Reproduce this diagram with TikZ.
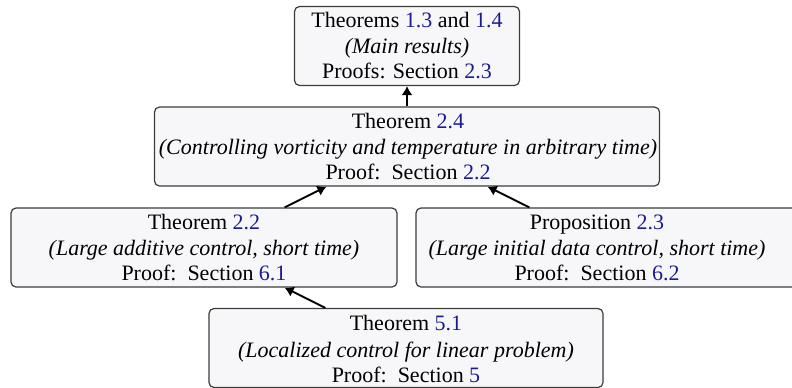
\documentclass[tikz,border=0pt]{standalone}
\usepackage{fontspec}
\setmainfont{Liberation Serif}
\usetikzlibrary{arrows.meta}
\definecolor{lnk}{RGB}{28,28,145}
\definecolor{boxfill}{RGB}{247,247,250}
\definecolor{boxline}{RGB}{60,60,60}
\newcommand{\rf}[1]{\textcolor{lnk}{#1}}
\tikzset{
  box/.style={draw=boxline, fill=boxfill, line width=0.6pt, rounded corners=2.5pt, inner sep=0pt, minimum height=39.5pt},
  txt/.style={anchor=base, inner sep=0pt, font=\fontsize{11}{13}\selectfont},
  arr/.style={-{Latex[length=4.5pt,width=5.5pt]}, line width=0.95pt, black}
}
\begin{document}
\begin{tikzpicture}[x=0.5pt,y=-0.5pt]
\useasboundingbox (0,0) rectangle (792,387);
\clip (0,0) rectangle (792,387);
% boxes
\node[box, minimum width=112.5pt] (top) at (407,46) {};
\node[box, minimum width=252.5pt] (t24) at (407,146.5) {};
\node[box, minimum width=193pt] (t22) at (204,247.5) {};
\node[box, minimum width=194pt] (p23) at (610,247.5) {};
\node[box, minimum width=197pt] (t51) at (406,348) {};
% texts: top
\node[txt] (topa) at (407,27) {Theorems \rf{1.3} and \rf{1.4}};
\node[txt] (topb) at (407,53) {\textit{(Main results)}};
\node[txt] (topc) at (407,78) {Proofs: Section \rf{2.3}};
% 2.4
\node[txt] (t24a) at (408,128) {Theorem \rf{2.4}};
\node[txt] (t24b) at (408,154) {\textit{(Controlling vorticity and temperature in arbitrary time)}};
\node[txt] (t24c) at (408,179) {Proof:\ \ Section \rf{2.2}};
% 2.2
\node[txt] (t22a) at (204,229) {Theorem \rf{2.2}};
\node[txt] (t22b) at (204,255) {\textit{(Large additive control, short time)}};
\node[txt] (t22c) at (204,280) {Proof:\ \ Section \rf{6.1}};
% 2.3
\node[txt] (p23a) at (597,229) {Proposition \rf{2.3}};
\node[txt] (p23b) at (597,255) {\textit{(Large initial data control, short time)}};
\node[txt] (p23c) at (597,280) {Proof:\ \ Section \rf{6.2}};
% 5.1
\node[txt] (t51a) at (406,330) {Theorem \rf{5.1}};
\node[txt] (t51b) at (406,357) {\textit{(Localized control for linear problem)}};
\node[txt] (t51c) at (406,382) {Proof:\ \ Section \rf{5}};
% arrows
\draw[arr] (t24) -- (top);
\draw[arr] (t22) -- (t24);
\draw[arr] (p23) -- (t24);
\draw[arr] (t51) -- (t22);
\end{tikzpicture}
\end{document}
